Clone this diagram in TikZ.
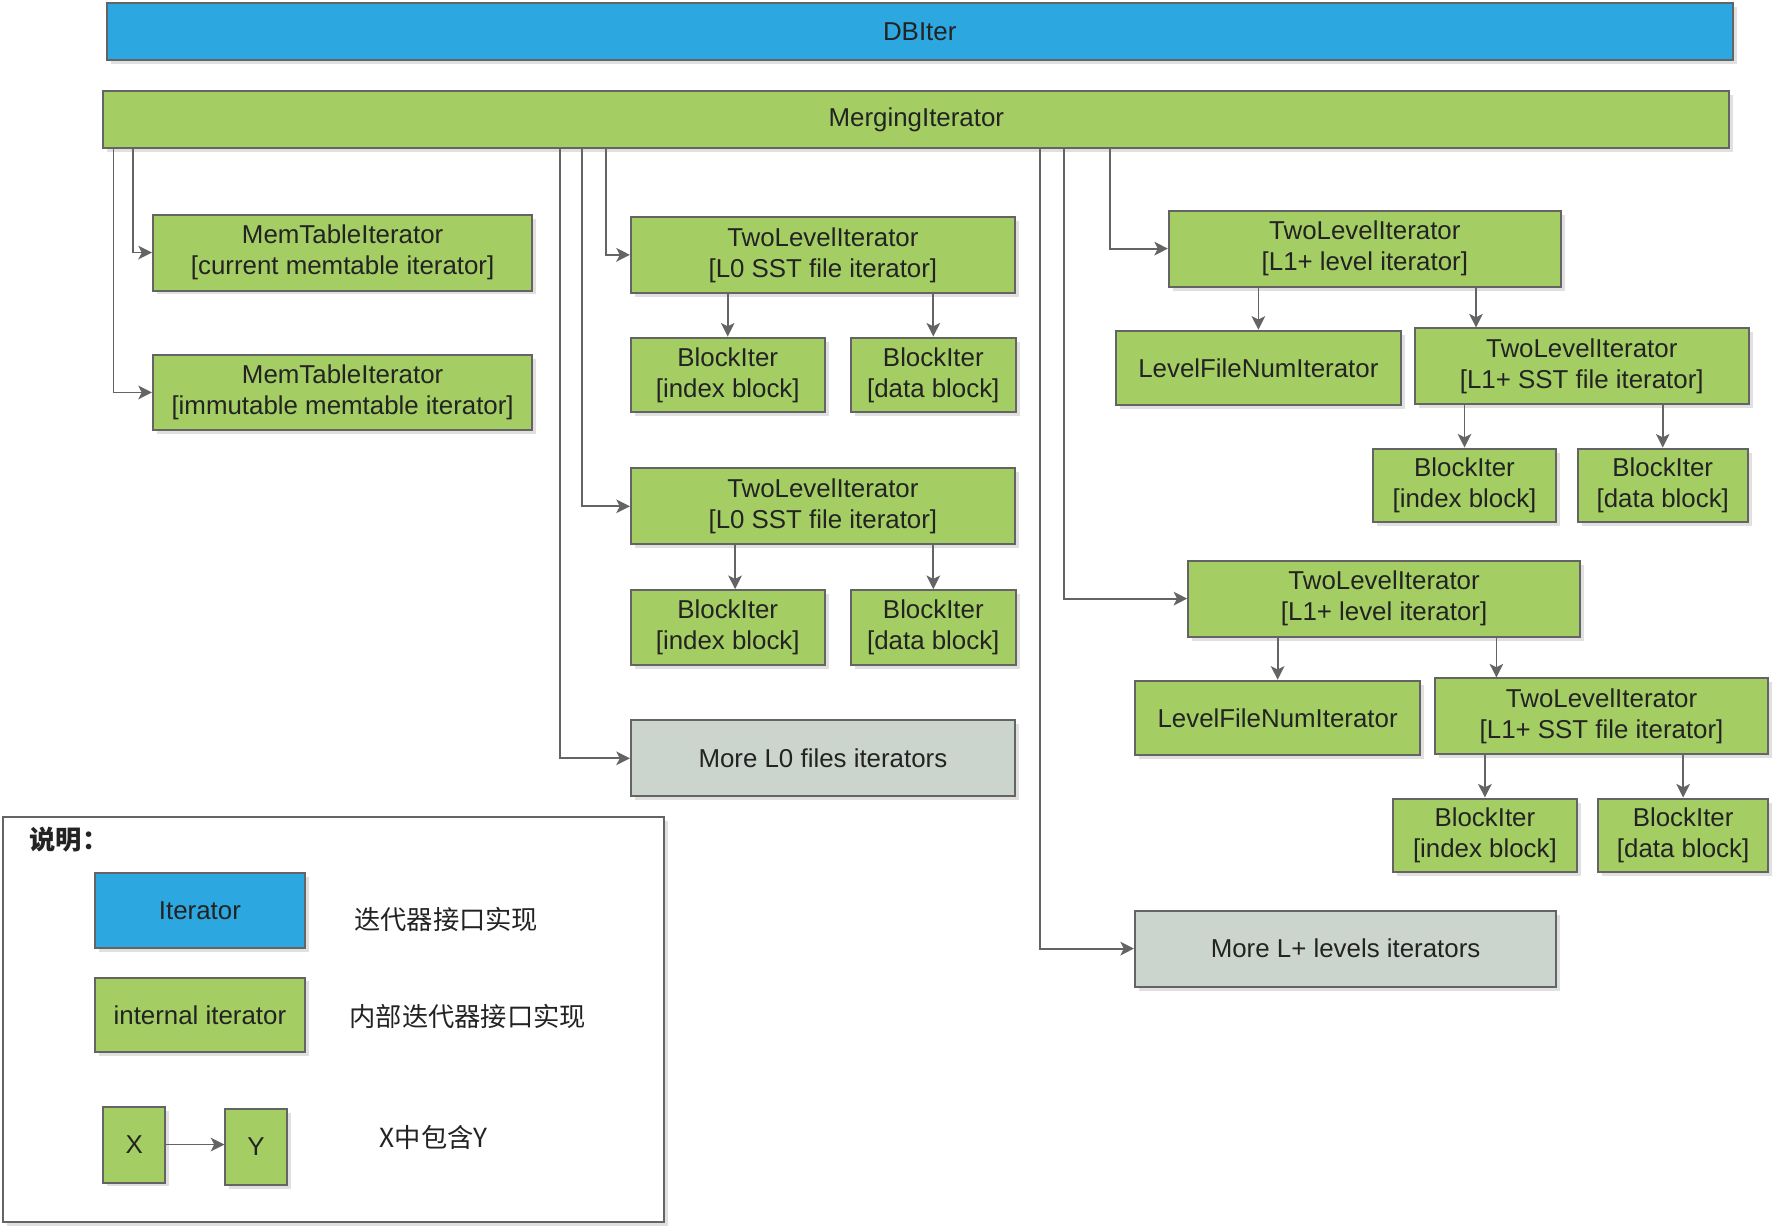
\documentclass[tikz,border=0pt]{standalone}
\usepackage{fontspec}
\setmainfont{Liberation Sans}
\newfontfamily\cjk{Noto Sans CJK SC}
\usepackage{xcolor}
\usepackage{tikz}
\usetikzlibrary{arrows.meta,shadows,positioning}

\definecolor{iterblue}{RGB}{44,167,224}
\definecolor{itergreen}{RGB}{164,206,99}
\definecolor{moregray}{RGB}{203,213,205}
\definecolor{linegray}{RGB}{100,100,100}
\definecolor{textgray}{RGB}{35,35,35}

\begin{document}
\begin{tikzpicture}[x=0.02cm, y=-0.02cm,
    box/.style={draw=linegray, line width=1pt, fill=itergreen, align=center, inner sep=0pt,
        minimum height=1.34cm, text=textgray, font=\fontsize{13}{15.6}\selectfont,
        drop shadow={shadow xshift=0.07cm, shadow yshift=-0.07cm, fill=black!12, opacity=1}},
    blue box/.style={box, fill=iterblue},
    more box/.style={box, fill=moregray},
    frame/.style={draw=linegray, line width=1pt, fill=white,
        drop shadow={shadow xshift=0.07cm, shadow yshift=-0.07cm, fill=black!12, opacity=1}},
    note/.style={text=textgray, font=\cjk\fontsize{13.2}{15}\selectfont},
    conn/.style={draw=linegray, line width=0.9pt, -{Stealth[length=0.24cm, width=0.24cm, inset=0.06cm]}}]
    \useasboundingbox (0,0) rectangle (1568,1086);

    % Top level
    \node[blue box, minimum width=28.72cm, minimum height=1.0cm] (dbiter) at (812,28) {DBIter};
    \node[box, minimum width=28.72cm, minimum height=1.02cm] (merging) at (809,105.5) {MergingIterator};

    % Memtables
    \node[box, minimum width=6.7cm] (memcur) at (302.5,223) {MemTableIterator\\{[current memtable iterator]}};
    \node[box, minimum width=6.7cm] (memimm) at (302.5,346.5) {MemTableIterator\\{[immutable memtable iterator]}};

    % L0 files
    \node[box, minimum width=6.78cm] (l0a) at (726.5,225) {TwoLevelIterator\\{[L0 SST file iterator]}};
    \node[box, minimum width=3.42cm, minimum height=1.32cm] (l0aidx) at (642.5,331) {BlockIter\\{[index block]}};
    \node[box, minimum width=2.92cm, minimum height=1.32cm] (l0adat) at (824,331) {BlockIter\\{[data block]}};
    \node[box, minimum width=6.78cm] (l0b) at (726.5,447) {TwoLevelIterator\\{[L0 SST file iterator]}};
    \node[box, minimum width=3.42cm, minimum height=1.32cm] (l0bidx) at (642.5,554) {BlockIter\\{[index block]}};
    \node[box, minimum width=2.92cm, minimum height=1.32cm] (l0bdat) at (824,554) {BlockIter\\{[data block]}};
    \node[more box, minimum width=6.78cm] (morel0) at (726.5,669.5) {More L0 files iterators};

    % L1+ levels
    \node[box, minimum width=6.92cm] (l1a) at (1205,219.5) {TwoLevelIterator\\{[L1+ level iterator]}};
    \node[box, minimum width=5.04cm, minimum height=1.32cm] (lfna) at (1111,325) {LevelFileNumIterator};
    \node[box, minimum width=5.9cm] (ssta) at (1396.5,323.5) {TwoLevelIterator\\{[L1+ SST file iterator]}};
    \node[box, minimum width=3.24cm, minimum height=1.3cm] (sstaidx) at (1293,428.5) {BlockIter\\{[index block]}};
    \node[box, minimum width=3.0cm, minimum height=1.3cm] (sstadat) at (1468,428.5) {BlockIter\\{[data block]}};
    \node[box, minimum width=6.92cm] (l1b) at (1222,528.5) {TwoLevelIterator\\{[L1+ level iterator]}};
    \node[box, minimum width=5.04cm, minimum height=1.32cm] (lfnb) at (1128,634) {LevelFileNumIterator};
    \node[box, minimum width=5.88cm] (sstb) at (1414,632.5) {TwoLevelIterator\\{[L1+ SST file iterator]}};
    \node[box, minimum width=3.24cm, minimum height=1.3cm] (sstbidx) at (1311,737.5) {BlockIter\\{[index block]}};
    \node[box, minimum width=3.0cm, minimum height=1.3cm] (sstbdat) at (1486,737.5) {BlockIter\\{[data block]}};
    \node[more box, minimum width=7.44cm] (morelp) at (1188,837.5) {More L+ levels iterators};

    % Merging -> children
    \foreach \dx/\t in {0.20/memimm, 0.54/memcur, 8.08/morel0, 8.48/l0b, 8.90/l0a, 16.56/morelp, 16.98/l1b, 17.80/l1a}
        \draw[conn] ([xshift=\dx cm]merging.south west) |- (\t);

    % Parent -> child
    \foreach \p/\c in {l0a/l0aidx, l0a/l0adat, l0b/l0bdat, l1a/lfna, ssta/sstaidx, ssta/sstadat, l1b/lfnb, sstb/sstbidx, sstb/sstbdat}
        \draw[conn] (\p.south -| \c.north) -- (\c.north);
    \coordinate (l0bidxtop) at ([xshift=0.13cm]l0bidx.north);
    \coordinate (sstatop) at ([xshift=1.1cm]ssta.north west);
    \coordinate (sstbtop) at ([xshift=1.1cm]sstb.north west);
    \foreach \p/\c in {l0b/l0bidxtop, l1a/sstatop, l1b/sstbtop}
        \draw[conn] (\p.south -| \c) -- (\c);

    % Legend
    \node[frame, minimum width=11.66cm, minimum height=7.16cm] (legend) at (294.5,900) {};
    \node[note, font=\cjk\bfseries\fontsize{13.2}{15}\selectfont, anchor=west] (legtitle) at (20,741) {说明：};
    \node[blue box, minimum width=3.7cm, minimum height=1.32cm] (legiter) at (176.5,804) {Iterator};
    \node[box, minimum width=3.7cm, minimum height=1.32cm] (legint) at (176.5,896) {internal iterator};
    \node[box, minimum width=1.1cm] (legx) at (118.5,1010.5) {X};
    \node[box, minimum width=1.08cm] (legy) at (226,1012.5) {Y};
    \draw[conn] (legx) -- (legx -| legy.west);
    \node[note] (legitertxt) at (394,812) {迭代器接口实现};
    \node[note] (leginttxt) at (413,897) {内部迭代器接口实现};
    \node[note] (legxytxt) at (383,1004) {X中包含Y};
\end{tikzpicture}
\end{document}
